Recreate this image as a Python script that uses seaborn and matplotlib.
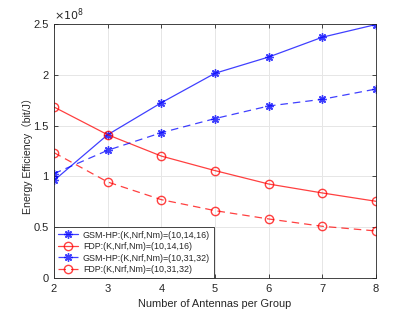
"""Energy efficiency vs antennas per group (GSM-HP vs FDP)."""

import matplotlib
matplotlib.use('Agg')
import matplotlib.pyplot as plt
import seaborn as sns
import pandas as pd

# Data (energy efficiency in units of 1e8 bit/J)
antennas = [2, 3, 4, 5, 6, 7, 8]
gsm_14_16 = [0.96, 1.41, 1.725, 2.015, 2.175, 2.37, 2.495]
fdp_14_16 = [1.683, 1.41, 1.20, 1.057, 0.925, 0.837, 0.755]
gsm_31_32 = [1.027, 1.257, 1.43, 1.569, 1.693, 1.759, 1.86]
fdp_31_32 = [1.234, 0.945, 0.771, 0.663, 0.581, 0.509, 0.463]
labels = ['GSM-HP:(K,Nrf,Nm)=(10,14,16)', 'FDP:(K,Nrf,Nm)=(10,14,16)',
          'GSM-HP:(K,Nrf,Nm)=(10,31,32)', 'FDP:(K,Nrf,Nm)=(10,31,32)']
x_ticks = [2, 3, 4, 5, 6, 7, 8]
y_ticks = [0, 0.5, 1, 1.5, 2, 2.5]
y_ticklabels = ['0', '0.5', '1', '1.5', '2', '2.5']

sns.set_theme(style="whitegrid")
plt.rcParams['font.family'] = ['Liberation Sans', 'Noto Sans CJK SC', 'DejaVu Sans']

df = pd.DataFrame({'x': antennas * 4,
                   'y': gsm_14_16 + fdp_14_16 + gsm_31_32 + fdp_31_32,
                   'series': [l for l in labels for _ in antennas]})

fig = plt.figure(figsize=(4.15, 3.12), dpi=100)
ax = fig.add_axes([54 / 415, 1 - 278 / 312, 322 / 415, 254 / 312])

styles = [('#0000ff', (8, 2, 0), '-'), ('#ff0000', 'o', '-'),
          ('#0000ff', (8, 2, 0), (0, (6, 4))), ('#ff0000', 'o', (0, (6, 4)))]
for lab, (c, m, ls) in zip(labels, styles):
    sub = df[df['series'] == lab]
    sns.lineplot(data=sub, x='x', y='y', ax=ax, label=lab, color=c,
                 linestyle=ls, linewidth=0.9, marker=m, markersize=6,
                 markeredgewidth=1.0, markerfacecolor='none',
                 markeredgecolor=c, alpha=0.75)

ax.set_xlim(2, 8)
ax.set_ylim(0, 2.5)
ax.set_xticks(x_ticks)
ax.set_yticks(y_ticks)
ax.set_yticklabels(y_ticklabels)
ax.set_xlabel('Number of Antennas per Group', fontsize=7.9, color='#262626', labelpad=4)
ax.set_ylabel('Energy Efficiency（bit/J）', fontsize=7.6, color='#262626')
ax.yaxis.set_label_coords(-0.064, 0.49)
ax.text(0.0, 1.005, r'$\times10^{8}$', transform=ax.transAxes, fontsize=8,
        color='#262626', ha='left', va='bottom')

ax.set_facecolor('white')
ax.grid(True, color='#e6e6e6', linewidth=0.7)
for s in ax.spines.values():
    s.set_visible(True)
    s.set_color('#262626')
    s.set_linewidth(0.6)
ax.tick_params(direction='in', length=3, width=0.6, labelsize=8,
               colors='#262626', top=True, right=True, bottom=True, left=True, pad=4)

leg = ax.legend(loc='lower left', fontsize=6.4, frameon=True, fancybox=False,
                numpoints=1, borderpad=0.45, labelspacing=0.28, handlelength=2.25,
                handletextpad=0.55, borderaxespad=0.0)
leg.get_frame().set_edgecolor('#262626')
leg.get_frame().set_linewidth(0.6)
leg.get_frame().set_alpha(1.0)

fig.savefig('out.png', dpi=100, facecolor='white')
